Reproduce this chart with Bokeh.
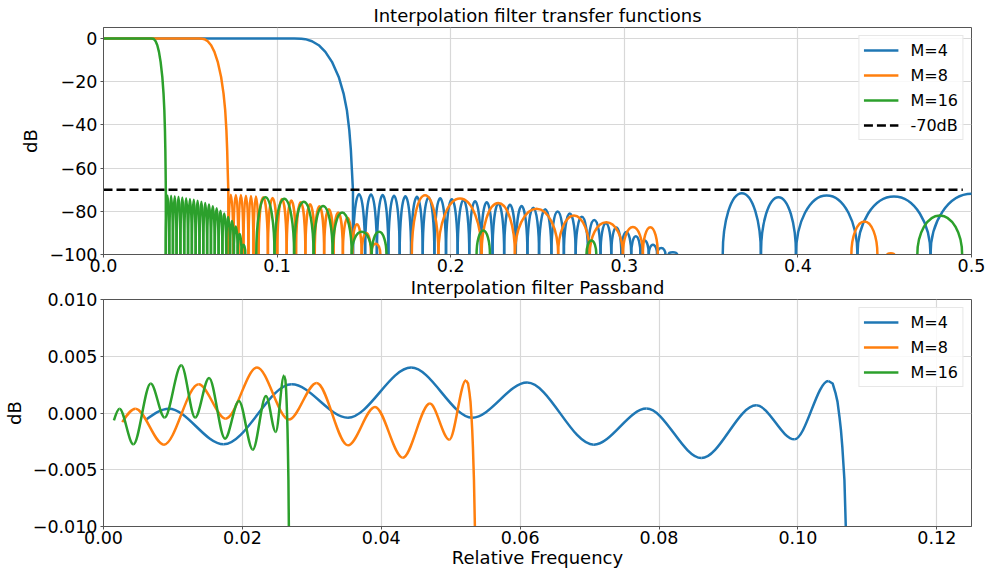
from bokeh.plotting import figure
from bokeh.layouts import column
from bokeh.models import FixedTicker, CustomJSTickFormatter, Range1d, Title
from bokeh.embed import file_html
from bokeh.resources import INLINE

FONT = "DejaVu Sans"
C4, C8, C16 = "#1f77b4", "#ff7f0e", "#2ca02c"
LW = 2.5

# ---------------- top panel data (dB) ----------------
top_title = "Interpolation filter transfer functions"
top_xticks = [0.0, 0.1, 0.2, 0.3, 0.4, 0.5]
top_xlabels = ["0.0", "0.1", "0.2", "0.3", "0.4", "0.5"]
top_yticks = [0, -20, -40, -60, -80, -100]
top_ylabels = ["0", "\u221220", "\u221240", "\u221260", "\u221280", "\u2212100"]

roll_db = [0, 0, -0.1, -0.3, -1.25, -3.1, -6.2, -10.8, -17.8, -25.5, -33.2, -42.5, -51.8, -61.1, -70.3, -100]
m4_roll_x = [0.0, 0.1100, 0.1140, 0.1163, 0.1201, 0.1240, 0.1278, 0.1316, 0.1355, 0.1383,
             0.1402, 0.1416, 0.1425, 0.1431, 0.1437, 0.1437]
m8_roll_x = [0.0, 0.0550, 0.0570, 0.05815, 0.06005, 0.0620, 0.0639, 0.0658, 0.06775, 0.06915,
             0.0701, 0.0708, 0.07125, 0.07155, 0.0719, 0.0719]
m16_roll_x = [0.0, 0.0275, 0.0285, 0.02908, 0.03003, 0.0310, 0.03195, 0.0329, 0.03388, 0.03458,
              0.03505, 0.0354, 0.03563, 0.03578, 0.0359, 0.0359]

# stop-band lobes: groups of (nulls, peak dB of each lobe)
m4_lobes = [
    ([0.1437, 0.1507, 0.1575, 0.1641, 0.1706, 0.1772, 0.1839, 0.1906, 0.1973, 0.2040,
      0.2107, 0.2174, 0.2241, 0.2308, 0.2375, 0.2442, 0.2509, 0.2580, 0.2652, 0.2720,
      0.2791, 0.2863, 0.2925, 0.2983, 0.3040, 0.3093, 0.3141, 0.3189, 0.3237],
     [-72.0, -72.2, -72.5, -72.8, -73.0, -73.3, -73.6, -74.0, -74.4, -74.8,
      -75.3, -75.8, -76.4, -77.0, -77.6, -78.3, -79.0, -80.0, -81.0, -82.5,
      -84.0, -85.5, -87.5, -89.5, -91.5, -93.5, -95.5, -97.0]),
    ([0.3255, 0.3305], [-99.0]),
    ([0.3567, 0.3787, 0.3989, 0.4343, 0.4764, 0.5236], [-71.6, -73.4, -72.6, -73.1, -71.9]),
]
m8_lobes = [
    ([0.0719, 0.0748, 0.0777, 0.0806, 0.0835, 0.0864, 0.0893, 0.0947, 0.1001, 0.1055,
      0.1109, 0.1163, 0.1217, 0.1271, 0.1325, 0.1379, 0.1433, 0.1487, 0.1541, 0.1595],
     [-72.3, -72.4, -72.5, -72.7, -72.9, -73.1, -73.4, -73.8, -74.3, -75.0,
      -75.8, -76.7, -77.7, -79.0, -80.5, -83.0, -86.0, -90.0, -95.0]),
    ([0.1776, 0.1929, 0.2178, 0.2370, 0.2619, 0.2801, 0.2992, 0.3107, 0.3193],
     [-72.6, -74.0, -76.2, -78.8, -81.9, -85.0, -87.3, -87.3]),
    ([0.4308, 0.4458], [-84.7]),
    ([0.4515, 0.4555], [-99.4]),
]
m16_lobes = [
    ([0.0359, 0.0379, 0.0400, 0.0421, 0.0443, 0.0465, 0.0487, 0.0509, 0.0531, 0.0553,
      0.0575, 0.0597, 0.0619, 0.0641, 0.0663, 0.0685, 0.0707, 0.0729, 0.0751, 0.0773,
      0.0795, 0.0817],
     [-72.6, -72.8, -73.0, -73.3, -73.6, -73.9, -74.3, -74.7, -75.1, -75.6,
      -76.2, -76.9, -77.7, -78.6, -79.7, -81.0, -82.6, -84.5, -87.0, -90.5, -95.5]),
    ([0.0880, 0.0985, 0.1098, 0.1210, 0.1320, 0.1430, 0.1545, 0.1630],
     [-73.5, -74.2, -75.5, -77.5, -80.5, -89.5, -89.5]),
    ([0.2149, 0.2226], [-88.9]),
    ([0.2782, 0.2839], [-93.5]),
    ([0.4688, 0.4946], [-81.9]),
]
limit_x = [0.0, 0.495]
limit_db = [-70, -70]
top_floor = -100
top_ceiling = 5.1

# ---------------- bottom panel data (dB) ----------------
bot_title = "Interpolation filter Passband"
bot_xticks = [0.0, 0.02, 0.04, 0.06, 0.08, 0.10, 0.12]
bot_xlabels = ["0.00", "0.02", "0.04", "0.06", "0.08", "0.10", "0.12"]
bot_yticks = [0.01, 0.005, 0.0, -0.005, -0.01]
bot_ylabels = ["0.010", "0.005", "0.000", "\u22120.005", "\u22120.010"]

# ripple: first point, then successive maxima/minima
pb4_ext_x = [0.0061, 0.0094, 0.0173, 0.0271, 0.0352, 0.0443, 0.0531, 0.0610, 0.0706, 0.0782,
             0.0861, 0.0940, 0.0995, 0.1044]
pb4_ext_y = [-0.0006, 0.00038, -0.00276, 0.00253, -0.00041, 0.0040, -0.00041, 0.00268, -0.00279, 0.00039,
             -0.00397, 0.00068, -0.00232, 0.00282]
pb4_drop_x = [0.1044, 0.1050, 0.1054, 0.1057, 0.1060, 0.1062, 0.1064, 0.1067, 0.1069]
pb4_drop_y = [0.00282, 0.0026, 0.0018, 0.0010, -0.0004, -0.0015, -0.0030, -0.0059, -0.0101]

pb8_ext_x = [0.0027, 0.0046, 0.0087, 0.0137, 0.0176, 0.0221, 0.0267, 0.0307, 0.0352, 0.0391,
             0.0431, 0.0470, 0.0498, 0.0522]
pb8_ext_y = [-0.0008, 0.00038, -0.00279, 0.00253, -0.0005, 0.0040, -0.00058, 0.00265, -0.00285, 0.00053,
             -0.00394, 0.00083, -0.00235, 0.00288]
pb8_drop_x = [0.0522, 0.0525, 0.0527, 0.05285, 0.0530, 0.0531, 0.0532, 0.05335, 0.0535]
pb8_drop_y = [0.00288, 0.0026, 0.0018, 0.0010, -0.0004, -0.0015, -0.0030, -0.0059, -0.0105]

pb16_ext_x = [0.0015, 0.0023, 0.0043, 0.0068, 0.0088, 0.0112, 0.0132, 0.0152, 0.0175, 0.0195,
              0.0215, 0.0234, 0.0248, 0.0260]
pb16_ext_y = [-0.00064, 0.00038, -0.00276, 0.0026, -0.0004, 0.0042, -0.0004, 0.00309, -0.00226, 0.00106,
              -0.00323, 0.0015, -0.00167, 0.0033]
pb16_drop_x = [0.0260, 0.0262, 0.0263, 0.02637, 0.02645, 0.0265, 0.02655, 0.02663, 0.0267]
pb16_drop_y = [0.0033, 0.0029, 0.0020, 0.0010, -0.0004, -0.0015, -0.0030, -0.0059, -0.0105]


def tick_fmt(vals, labs):
    return CustomJSTickFormatter(args=dict(vals=vals, labs=labs), code="""
        let best = 0;
        for (let i = 0; i < vals.length; i++) {
            if (Math.abs(vals[i] - tick) < Math.abs(vals[best] - tick)) best = i;
        }
        return labs[best];""")


def style_title(t, standoff):
    t.text_font = FONT
    t.text_font_size = "18px"
    t.text_font_style = "normal"
    t.align = "center"
    t.text_color = "#000000"
    t.standoff = standoff


def style(p, xt, xl, yt, yl):
    p.outline_line_color = "#555555"
    p.outline_line_width = 1
    for ax in (p.xaxis[0], p.yaxis[0]):
        ax.major_label_text_font = FONT
        ax.major_label_text_font_size = "17.5px"
        ax.major_label_text_color = "#000000"
        ax.axis_label_text_font = FONT
        ax.axis_label_text_font_size = "18px"
        ax.axis_label_text_font_style = "normal"
        ax.axis_label_text_color = "#000000"
        ax.axis_line_color = "#555555"
        ax.major_tick_line_color = "#555555"
        ax.major_tick_out = 3
        ax.major_tick_in = 0
        ax.minor_tick_line_color = None
        ax.major_label_standoff = 1
    p.yaxis[0].major_label_standoff = 3
    p.xaxis[0].ticker = FixedTicker(ticks=xt)
    p.xaxis[0].formatter = tick_fmt(xt, xl)
    p.yaxis[0].ticker = FixedTicker(ticks=yt)
    p.yaxis[0].formatter = tick_fmt(yt, yl)
    p.yaxis[0].axis_label_standoff = 5
    p.grid.grid_line_color = "#d8d8d8"
    p.grid.grid_line_width = 1.2


def legend_style(p):
    lg = p.legend[0]
    lg.location = "top_right"
    lg.margin = 8
    lg.padding = 4
    lg.spacing = 5
    lg.label_height = 20
    lg.glyph_height = 20
    lg.glyph_width = 35
    lg.label_standoff = 12
    lg.label_text_font = FONT
    lg.label_text_font_size = "16px"
    lg.label_text_color = "#000000"
    lg.border_line_color = "#d0d0d0"
    lg.border_line_width = 1
    lg.background_fill_alpha = 0.85


def lobes(p, groups, color):
    xs, ws, hs, ys = [], [], [], []
    for nulls, peaks in groups:
        for a, b, pk in zip(nulls[:-1], nulls[1:], peaks):
            xs.append((a + b) / 2)
            ws.append(b - a)
            hs.append(2 * (pk - top_floor))
            ys.append(top_floor)
    p.ellipse(x=xs, y=ys, width=ws, height=hs, fill_color=None,
              line_color=color, line_width=LW)


def ripple(p, ex, ey, dx_, dy_, color, label):
    # smooth curve through the read extrema: horizontal tangents at each extremum
    x0, y0, x1, y1, cx0, cy0, cx1, cy1 = [], [], [], [], [], [], [], []
    for i in range(len(ex) - 1):
        d = ex[i + 1] - ex[i]
        x0.append(ex[i]); y0.append(ey[i])
        x1.append(ex[i + 1]); y1.append(ey[i + 1])
        cx0.append(ex[i] + d / 3)
        cy0.append(ey[i] + (0.5 * (ey[i + 1] - ey[i]) if i == 0 else 0))
        cx1.append(ex[i + 1] - d / 3); cy1.append(ey[i + 1])
    p.bezier(x0=x0, y0=y0, x1=x1, y1=y1, cx0=cx0, cy0=cy0, cx1=cx1, cy1=cy1,
             line_color=color, line_width=LW)
    p.line(dx_, dy_, line_color=color, line_width=LW, line_join="round", legend_label=label)


# ---------------- top figure ----------------
p1 = figure(width=987, height=299, output_backend="svg", toolbar_location=None,
            x_range=Range1d(0, 0.5), y_range=Range1d(top_floor, top_ceiling),
            title=top_title, min_border_left=101, min_border_right=16,
            min_border_top=27, min_border_bottom=45)
style_title(p1.title, 4)
style(p1, top_xticks, top_xlabels, top_yticks, top_ylabels)
p1.yaxis[0].axis_label = "dB"

lobes(p1, m4_lobes, C4)
p1.line(m4_roll_x, roll_db, line_color=C4, line_width=LW, line_join="round", legend_label="M=4")
lobes(p1, m8_lobes, C8)
p1.line(m8_roll_x, roll_db, line_color=C8, line_width=LW, line_join="round", legend_label="M=8")
lobes(p1, m16_lobes, C16)
p1.line(m16_roll_x, roll_db, line_color=C16, line_width=LW, line_join="round", legend_label="M=16")
p1.line(limit_x, limit_db, line_color="#000000", line_width=LW, line_dash="9 4",
        legend_label="-70dB")
legend_style(p1)

# title of the lower panel sits in the gap under the upper panel's axis
t2 = Title(text=bot_title)
style_title(t2, 0)
p1.add_layout(t2, "below")

# ---------------- bottom figure ----------------
# pulled up over the (transparent) bottom strip of the upper figure
p2 = figure(width=987, height=288, output_backend="svg", toolbar_location=None,
            x_range=Range1d(0, 0.125), y_range=Range1d(-0.01, 0.01),
            min_border_left=101, min_border_right=16,
            min_border_top=12, min_border_bottom=49)
p2.margin = (-12, 0, 0, 0)
p2.border_fill_alpha = 0
style(p2, bot_xticks, bot_xlabels, bot_yticks, bot_ylabels)
p2.yaxis[0].axis_label = "dB"
p2.xaxis[0].axis_label = "Relative Frequency"
p2.xaxis[0].axis_label_standoff = 0

ripple(p2, pb4_ext_x, pb4_ext_y, pb4_drop_x, pb4_drop_y, C4, "M=4")
ripple(p2, pb8_ext_x, pb8_ext_y, pb8_drop_x, pb8_drop_y, C8, "M=8")
ripple(p2, pb16_ext_x, pb16_ext_y, pb16_drop_x, pb16_drop_y, C16, "M=16")
legend_style(p2)

layout = column(p1, p2)
open("out.html", "w").write(file_html(layout, INLINE))
